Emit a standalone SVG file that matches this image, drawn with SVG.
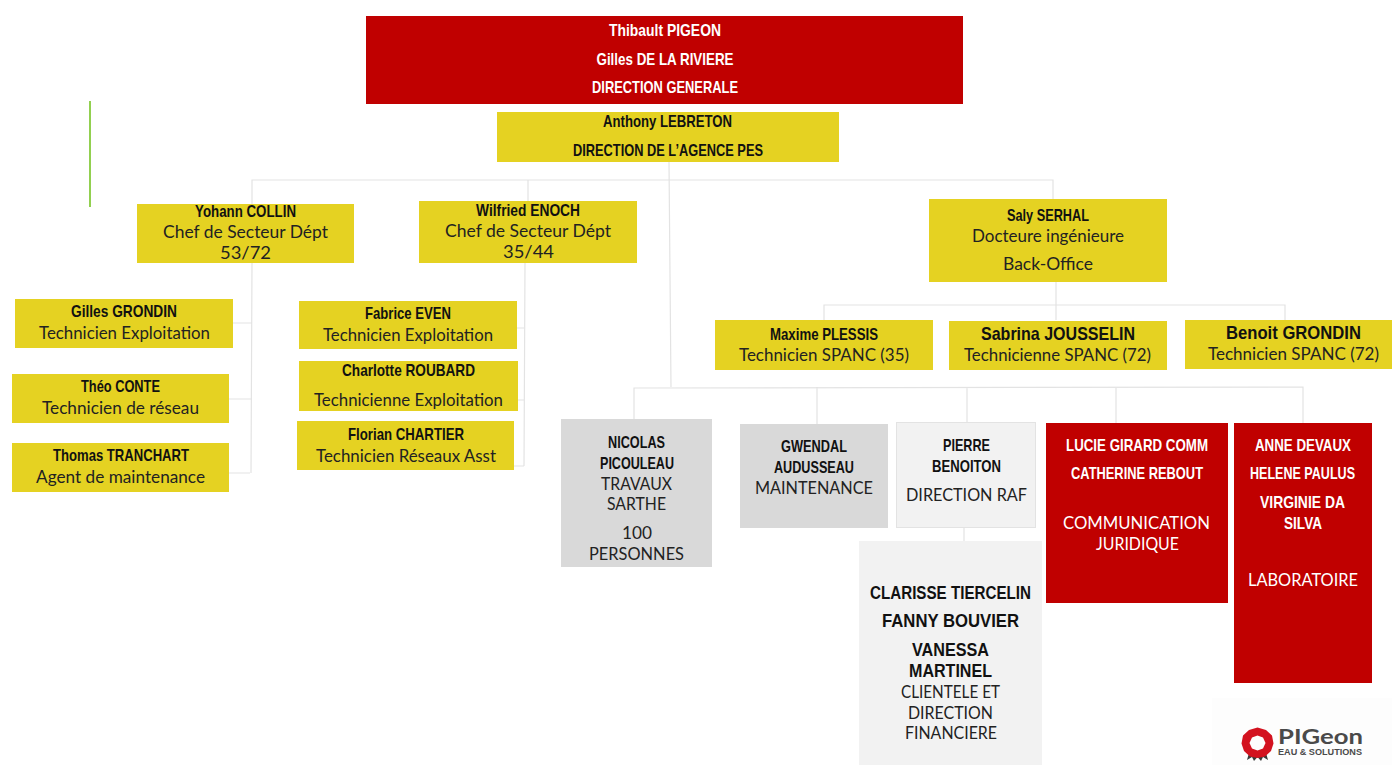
<svg xmlns="http://www.w3.org/2000/svg" width="1392" height="765" viewBox="0 0 1392 765">
<style>
text{text-anchor:middle}
.b{font:bold 17px "Liberation Sans",Arial,sans-serif;fill:#111}
.s{font-size:19px}
.r{font:17px Lato,"Liberation Sans",sans-serif;fill:#222}
.w{fill:#fff}
.y{fill:#e5d222}
.red{fill:#c00000}
.g{fill:#d9d9d9}
.l{fill:#f2f2f2}
#connectors path{fill:none;stroke:#e3e3e3;stroke-width:1.2}
</style>
<rect width="1392" height="765" fill="#fff"/>
<path d="M90 101V207" stroke="#92d050" stroke-width="2" fill="none"/>
<g id="connectors">
<path d="M669 162L671 387M252 204V180H1053V199M528 180V201"/>
<path d="M252 263L251 473M227 323H252M223 399H252M221 473H250"/>
<path d="M525 263L524 466M517 328H524M518 400H524M514 466H524"/>
<path d="M1056 282V320M824 320V305H1285V320"/>
<path d="M634 419V388L1303 387V423M817 387V424M967 387V422M1116 387V423"/>
<path d="M964 528V541"/>
</g>
<g id="n-direction"><rect class="red" x="366" y="16" width="597" height="88"/>
<text class="b w" x="665" y="36" textLength="112" lengthAdjust="spacingAndGlyphs">Thibault PIGEON</text>
<text class="b w" x="665" y="65" textLength="137" lengthAdjust="spacingAndGlyphs">Gilles DE LA RIVIERE</text>
<text class="b w" x="665" y="93" textLength="146" lengthAdjust="spacingAndGlyphs">DIRECTION GENERALE</text></g>
<g id="n-agence"><rect class="y" x="497" y="112" width="342" height="50"/>
<text class="b" x="667.500" y="127" textLength="129" lengthAdjust="spacingAndGlyphs">Anthony LEBRETON</text>
<text class="b" x="668" y="156" textLength="190" lengthAdjust="spacingAndGlyphs">DIRECTION DE L’AGENCE PES</text></g>
<g id="n-yohann"><rect class="y" x="137" y="204" width="217" height="59"/>
<text class="b" x="245.500" y="217" textLength="101" lengthAdjust="spacingAndGlyphs">Yohann COLLIN</text>
<text class="r" x="245.500" y="238" textLength="165" lengthAdjust="spacingAndGlyphs">Chef de Secteur Dépt</text>
<text class="r" x="245.500" y="259" textLength="51" lengthAdjust="spacingAndGlyphs">53/72</text></g>
<g id="n-wilfried"><rect class="y" x="419" y="201" width="218" height="62"/>
<text class="b" x="528" y="216" textLength="104" lengthAdjust="spacingAndGlyphs">Wilfried ENOCH</text>
<text class="r" x="528" y="237" textLength="166" lengthAdjust="spacingAndGlyphs">Chef de Secteur Dépt</text>
<text class="r" x="528.500" y="258" textLength="51" lengthAdjust="spacingAndGlyphs">35/44</text></g>
<g id="n-saly"><rect class="y" x="929" y="199" width="238" height="83"/>
<text class="b" x="1048" y="221" textLength="82" lengthAdjust="spacingAndGlyphs">Saly SERHAL</text>
<text class="r" x="1048" y="242" textLength="152" lengthAdjust="spacingAndGlyphs">Docteure ingénieure</text>
<text class="r" x="1048" y="270" textLength="90" lengthAdjust="spacingAndGlyphs">Back-Office</text></g>
<g id="n-gilles"><rect class="y" x="15" y="299" width="218" height="49"/>
<text class="b" x="124" y="317" textLength="106" lengthAdjust="spacingAndGlyphs">Gilles GRONDIN</text>
<text class="r" x="124.500" y="339" textLength="171" lengthAdjust="spacingAndGlyphs">Technicien Exploitation</text></g>
<g id="n-theo"><rect class="y" x="12" y="374" width="217" height="49"/>
<text class="b" x="120.500" y="392" textLength="79" lengthAdjust="spacingAndGlyphs">Théo CONTE</text>
<text class="r" x="120.500" y="414" textLength="157" lengthAdjust="spacingAndGlyphs">Technicien de réseau</text></g>
<g id="n-thomas"><rect class="y" x="12" y="443" width="217" height="49"/>
<text class="b" x="121" y="461" textLength="136" lengthAdjust="spacingAndGlyphs">Thomas TRANCHART</text>
<text class="r" x="120.500" y="483" textLength="169" lengthAdjust="spacingAndGlyphs">Agent de maintenance</text></g>
<g id="n-fabrice"><rect class="y" x="299" y="301" width="218" height="48"/>
<text class="b" x="408" y="319" textLength="86" lengthAdjust="spacingAndGlyphs">Fabrice EVEN</text>
<text class="r" x="408" y="341" textLength="170" lengthAdjust="spacingAndGlyphs">Technicien Exploitation</text></g>
<g id="n-charlotte"><rect class="y" x="299" y="361" width="219" height="50"/>
<text class="b" x="408.500" y="376" textLength="133" lengthAdjust="spacingAndGlyphs">Charlotte ROUBARD</text>
<text class="r" x="408.500" y="406" textLength="189" lengthAdjust="spacingAndGlyphs">Technicienne Exploitation</text></g>
<g id="n-florian"><rect class="y" x="297" y="421" width="217" height="49"/>
<text class="b" x="406" y="440" textLength="116" lengthAdjust="spacingAndGlyphs">Florian CHARTIER</text>
<text class="r" x="406" y="462" textLength="180" lengthAdjust="spacingAndGlyphs">Technicien Réseaux Asst</text></g>
<g id="n-maxime"><rect class="y" x="715" y="320" width="218" height="50"/>
<text class="b" x="824" y="340" textLength="108" lengthAdjust="spacingAndGlyphs">Maxime PLESSIS</text>
<text class="r" x="824" y="361" textLength="170" lengthAdjust="spacingAndGlyphs">Technicien SPANC (35)</text></g>
<g id="n-sabrina"><rect class="y" x="949" y="321" width="218" height="49"/>
<text class="b s" x="1058" y="340" textLength="154" lengthAdjust="spacingAndGlyphs">Sabrina JOUSSELIN</text>
<text class="r" x="1057.500" y="361" textLength="187" lengthAdjust="spacingAndGlyphs">Technicienne SPANC (72)</text></g>
<g id="n-benoit"><rect class="y" x="1185" y="320" width="207" height="49"/>
<text class="b s" x="1293.500" y="339" textLength="135" lengthAdjust="spacingAndGlyphs">Benoit GRONDIN</text>
<text class="r" x="1293.500" y="360" textLength="171" lengthAdjust="spacingAndGlyphs">Technicien SPANC (72)</text></g>
<g id="n-nicolas"><rect class="g" x="561" y="419" width="151" height="148"/>
<text class="b" x="636.500" y="448" textLength="57" lengthAdjust="spacingAndGlyphs">NICOLAS</text>
<text class="b" x="637" y="469" textLength="74" lengthAdjust="spacingAndGlyphs">PICOULEAU</text>
<text class="r" x="636.500" y="490" textLength="71" lengthAdjust="spacingAndGlyphs">TRAVAUX</text>
<text class="r" x="636.500" y="510" textLength="59" lengthAdjust="spacingAndGlyphs">SARTHE</text>
<text class="r" x="637" y="539" textLength="30" lengthAdjust="spacingAndGlyphs">100</text>
<text class="r" x="636.500" y="560" textLength="95" lengthAdjust="spacingAndGlyphs">PERSONNES</text></g>
<g id="n-gwendal"><rect class="g" x="740" y="424" width="148" height="104"/>
<text class="b" x="814" y="452" textLength="66" lengthAdjust="spacingAndGlyphs">GWENDAL</text>
<text class="b" x="814" y="473" textLength="80" lengthAdjust="spacingAndGlyphs">AUDUSSEAU</text>
<text class="r" x="814" y="494" textLength="118" lengthAdjust="spacingAndGlyphs">MAINTENANCE</text></g>
<g id="n-pierre"><rect class="l" x="896.500" y="422.500" width="139" height="105" stroke="#e3e3e3"/>
<text class="b" x="966.500" y="451" textLength="47" lengthAdjust="spacingAndGlyphs">PIERRE</text>
<text class="b" x="966.500" y="472" textLength="69" lengthAdjust="spacingAndGlyphs">BENOITON</text>
<text class="r" x="966.500" y="501" textLength="121" lengthAdjust="spacingAndGlyphs">DIRECTION RAF</text></g>
<g id="n-lucie"><rect class="red" x="1046" y="423" width="182" height="180"/>
<text class="b w" x="1137" y="451" textLength="142" lengthAdjust="spacingAndGlyphs">LUCIE GIRARD COMM</text>
<text class="b w" x="1137" y="479" textLength="132" lengthAdjust="spacingAndGlyphs">CATHERINE REBOUT</text>
<text class="r w" x="1136.500" y="529" textLength="147" lengthAdjust="spacingAndGlyphs">COMMUNICATION</text>
<text class="r w" x="1137.500" y="550" textLength="83" lengthAdjust="spacingAndGlyphs">JURIDIQUE</text></g>
<g id="n-anne"><rect class="red" x="1234" y="423" width="138" height="260"/>
<text class="b w" x="1303" y="451" textLength="96" lengthAdjust="spacingAndGlyphs">ANNE DEVAUX</text>
<text class="b w" x="1302.500" y="479" textLength="105" lengthAdjust="spacingAndGlyphs">HELENE PAULUS</text>
<text class="b w" x="1302.500" y="508" textLength="85" lengthAdjust="spacingAndGlyphs">VIRGINIE DA</text>
<text class="b w" x="1303" y="529" textLength="38" lengthAdjust="spacingAndGlyphs">SILVA</text>
<text class="r w" x="1303" y="586" textLength="110" lengthAdjust="spacingAndGlyphs">LABORATOIRE</text></g>
<g id="n-clarisse"><rect class="l" x="859" y="541" width="183" height="224"/>
<text class="b" x="950.500" y="599" style="font-size:18px" textLength="161" lengthAdjust="spacingAndGlyphs">CLARISSE TIERCELIN</text>
<text class="b" x="950.500" y="627" style="font-size:18px" textLength="137" lengthAdjust="spacingAndGlyphs">FANNY BOUVIER</text>
<text class="b" x="950.500" y="656" style="font-size:18px" textLength="77" lengthAdjust="spacingAndGlyphs">VANESSA</text>
<text class="b" x="950.500" y="677" style="font-size:18px" textLength="83" lengthAdjust="spacingAndGlyphs">MARTINEL</text>
<text class="r" x="950.500" y="698" textLength="99" lengthAdjust="spacingAndGlyphs">CLIENTELE ET</text>
<text class="r" x="950.500" y="719" textLength="85" lengthAdjust="spacingAndGlyphs">DIRECTION</text>
<text class="r" x="951" y="739" textLength="92" lengthAdjust="spacingAndGlyphs">FINANCIERE</text></g>
<g id="logo">
<rect x="1212" y="698" width="180" height="67" fill="#fdfdfd"/>
<path d="M1249 753L1247 760L1252 757L1254 761L1257.500 757L1261 761L1263 757L1268 760L1266 753Z" fill="#3a3a3a"/>
<path fill-rule="evenodd" fill="#d3121f" d="M1257.500 727.500L1266 730L1272 735.500L1273.500 743.500L1271 751L1265 756.500L1257.500 758L1250 756.500L1244 751L1241.500 743.500L1243 735.500L1249 730ZM1257.500 735.500L1252 737.500L1249.500 743L1252 748.500L1257.500 750.500L1263 748.500L1265.500 743L1263 737.500Z"/>
<text x="1320.500" y="744" textLength="85" lengthAdjust="spacingAndGlyphs" style="font:bold 20px Lato,'Liberation Sans',sans-serif;fill:#4a4a4a">PIGeon</text>
<text x="1320" y="755" textLength="84" lengthAdjust="spacingAndGlyphs" style="font:bold 9px 'Liberation Sans',sans-serif;fill:#4a4a4a">EAU &amp; SOLUTIONS</text>
</g>
</svg>
